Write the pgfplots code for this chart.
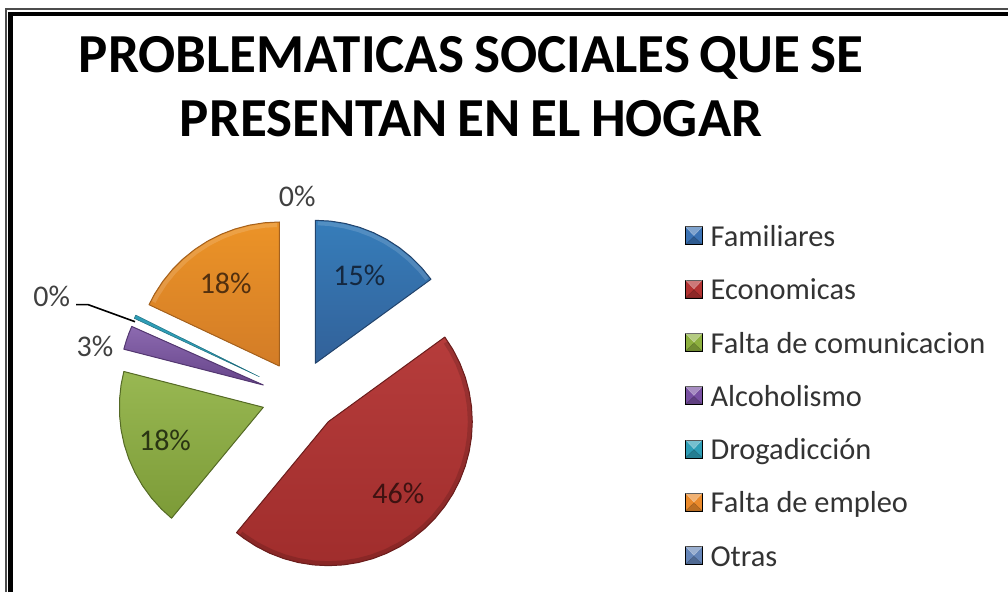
\documentclass[border=0pt]{standalone}
\usepackage{fontspec}
\setmainfont{Carlito}
\usepackage{pgfplots}
\pgfplotsset{compat=1.18}

\definecolor{cBlue}{HTML}{3B72B4}
\definecolor{cRed}{HTML}{B23231}
\definecolor{cGreen}{HTML}{8DB03F}
\definecolor{cPurple}{HTML}{7850A2}
\definecolor{cTeal}{HTML}{2E9DB6}
\definecolor{cOrange}{HTML}{EA8A2B}
\definecolor{cOtras}{HTML}{6585B8}

\pgfplotsset{
  slice/.style={forget plot, line width=1pt, line join=round, data cs=polar},
  rim/.style={forget plot, data cs=polar, line width=4pt, line cap=butt, opacity=.14},
  legend image code/.code={
    \fill[#1] (0pt,-8pt) rectangle (17pt,10pt);
    \fill[white,opacity=.35] (0pt,10pt) -- (17pt,10pt) -- (8.5pt,1pt) -- cycle;
    \fill[black,opacity=.2] (0pt,-8pt) -- (17pt,-8pt) -- (8.5pt,0pt) -- cycle;
  },
}

\begin{document}
\begin{tikzpicture}
\begin{axis}[
  hide axis,
  scale only axis,
  width=1008pt, height=592pt,
  xmin=0, xmax=1008, ymin=0, ymax=592,
  legend cell align=left,
  legend style={
    at={(axis cs:685,369)}, anchor=north west,
    draw=none, fill=none, text=black!80,
    font=\fontsize{30.4}{30.4}\selectfont,
    row sep=26.5pt, inner sep=0pt,
    /tikz/every odd column/.append style={column sep=6pt},
  },
]
% keeps the page at the full picture size
\addplot[forget plot, draw=none] coordinates {(0,0) (1008,592)};

% frame
\addplot[forget plot, black!70, line width=1.6pt] coordinates {(5.8,0) (5.8,583) (1008,583)};
\addplot[forget plot, black, line width=4.5pt] coordinates {(10.7,0) (10.7,578) (1008,578)};

% slices, angle and radius round each slice's own apex
\addplot[slice, shift={(315.3pt,228.7pt)}, draw=cBlue!60!black, top color=cBlue!92!cyan, bottom color=cBlue!85!black, fill=cBlue] coordinates {
  (90,0) (90,143) (84,143) (78,143) (72,143) (66,143) (60,143) (54,143) (48,143) (42,143) (36,143)
} -- cycle;
\addplot[rim, shift={(315.3pt,228.7pt)}, draw=white] coordinates {
  (89,140) (84,140) (78,140) (72,140) (66,140) (60,140) (54,140) (48,140) (42,140) (37,140)
};
\addplot[slice, shift={(328.3pt,170.3pt)}, draw=cRed!60!black, top color=cRed!95!white, bottom color=cRed!90!black, fill=cRed] coordinates {
  (36,0) (36,144) (30,144) (24,144) (18,144) (12,144) (6,144) (0,144) (-6,144) (-12,144) (-18,144) (-24,144) (-30,144)
  (-36,144) (-42,144) (-48,144) (-54,144) (-60,144) (-66,144) (-72,144) (-78,144) (-84,144) (-90,144) (-96,144)
  (-102,144) (-108,144) (-114,144) (-120,144) (-126,144) (-129.6,144)
} -- cycle;
\addplot[rim, shift={(328.3pt,170.3pt)}, draw=black] coordinates {
  (34,141.5) (30,141.5) (24,141.5) (18,141.5) (12,141.5) (6,141.5) (0,141.5) (-6,141.5) (-12,141.5) (-18,141.5) (-24,141.5) (-30,141.5)
  (-36,141.5) (-42,141.5) (-48,141.5) (-54,141.5) (-60,141.5) (-66,141.5) (-72,141.5) (-78,141.5) (-84,141.5) (-90,141.5) (-96,141.5)
  (-102,141.5) (-108,141.5) (-114,141.5) (-120,141.5) (-126,141.5) (-128,141.5)
};
\addplot[slice, shift={(263.3pt,184.7pt)}, draw=cGreen!60!black, top color=cGreen!90!white, bottom color=cGreen!88!black, fill=cGreen] coordinates {
  (-129.6,0) (-129.6,144) (-135,144) (-141,144) (-147,144) (-153,144) (-159,144) (-165,144) (-171,144) (-177,144)
  (-183,144) (-189,144) (-194.4,144)
} -- cycle;
\addplot[slice, shift={(263.3pt,207pt)}, draw=cPurple!70!black, top color=cPurple!85!white, bottom color=cPurple!85!black, fill=cPurple] coordinates {
  (-194.4,0) (-194.4,144) (-198,144) (-201,144) (-204,144)
} -- cycle;
\addplot[slice, shift={(259.3pt,215.3pt)}, draw=cTeal!70!black, line width=.5pt, fill=cTeal] coordinates {
  (-205,0) (-205,138) (-206.5,138)
} -- cycle;
\addplot[slice, shift={(279.3pt,226pt)}, draw=cOrange!70!black, top color=cOrange!92!yellow, bottom color=cOrange!90!black, fill=cOrange] coordinates {
  (-205.2,0) (-205.2,144) (-210,144) (-216,144) (-222,144) (-228,144) (-234,144) (-240,144) (-246,144) (-252,144)
  (-258,144) (-264,144) (-270,144)
} -- cycle;
\addplot[rim, shift={(279.3pt,226pt)}, draw=white] coordinates {
  (-207,141) (-210,141) (-216,141) (-222,141) (-228,141) (-234,141) (-240,141) (-246,141) (-252,141)
  (-258,141) (-264,141) (-269,141)
};
% Otras, 0%: no area
\addplot[slice, shift={(279.3pt,226pt)}, draw=none, fill=cOtras] coordinates {
  (-270,0) (-270,0) (-270,0)
} -- cycle;

% leader line of the left 0%
\addplot[forget plot, black, line width=1.6pt] coordinates {(76,287.3) (88.3,287.3) (135,270.3)};

\addlegendimage{fill=cBlue}\addlegendentry{Familiares\strut}
\addlegendimage{fill=cRed}\addlegendentry{Economicas\strut}
\addlegendimage{fill=cGreen}\addlegendentry{Falta de comunicacion\strut}
\addlegendimage{fill=cPurple}\addlegendentry{Alcoholismo\strut}
\addlegendimage{fill=cTeal}\addlegendentry{Drogadicción\strut}
\addlegendimage{fill=cOrange}\addlegendentry{Falta de empleo\strut}
\addlegendimage{fill=cOtras}\addlegendentry{Otras\strut}

% data labels
\node[font=\fontsize{30}{30}\selectfont, text=black!75] at (axis cs:297.3,395.3) {0\%};
\node[font=\fontsize{30}{30}\selectfont, text=cBlue!35!black] at (axis cs:359.3,317) {15\%};
\node[font=\fontsize{30}{30}\selectfont, text=cOrange!35!black] at (axis cs:225.7,308.7) {18\%};
\node[font=\fontsize{30}{30}\selectfont, text=black!75] at (axis cs:51.7,296) {0\%};
\node[font=\fontsize{30}{30}\selectfont, text=black!75] at (axis cs:95,245.3) {3\%};
\node[font=\fontsize{30}{30}\selectfont, text=cGreen!30!black] at (axis cs:165,151.3) {18\%};
\node[font=\fontsize{30}{30}\selectfont, text=cRed!35!black] at (axis cs:398.3,98.7) {46\%};

% title
\node[font=\fontsize{55}{64}\selectfont\bfseries, align=center, anchor=center] at (axis cs:471,505) {\spaceskip=10pt PROBLEMATICAS SOCIALES QUE SE\\\spaceskip=10pt PRESENTAN EN EL HOGAR};
\end{axis}
\end{tikzpicture}
\end{document}
